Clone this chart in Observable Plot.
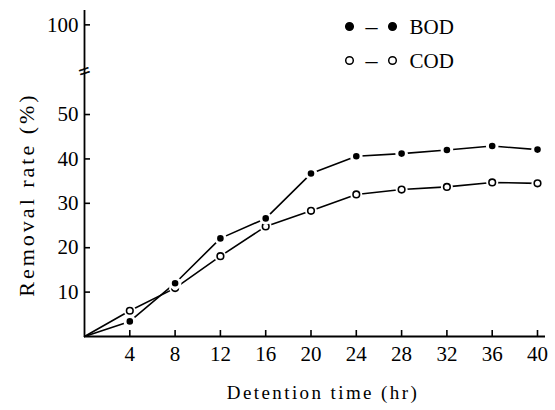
<!DOCTYPE html>
<html>
<head>
<meta charset="utf-8">
<script src="https://cdn.jsdelivr.net/npm/d3@7"></script>
<script src="https://cdn.jsdelivr.net/npm/@observablehq/plot@0.6"></script>
<style>
  body { margin: 0; background: white; }
</style>
</head>
<body>
<div id="chart"></div>
<script>
const times = [0, 4, 8, 12, 16, 20, 24, 28, 32, 36, 40];
const bod = [0, 3.4, 12.0, 22.1, 26.6, 36.7, 40.6, 41.2, 42.0, 42.9, 42.1];
const cod = [0, 5.8, 10.9, 18.1, 24.8, 28.3, 32.0, 33.1, 33.7, 34.7, 34.5];
const xTicks = [4, 8, 12, 16, 20, 24, 28, 32, 36, 40];
const yTicks = [10, 20, 30, 40, 50, 100];
const yBreakValue = 74;          // where the axis is broken (value scale)
const seriesNames = ["BOD", "COD"];
const xTitle = "Detention time (hr)";
const yTitle = "Removal rate (%)";

// broken axis: values above 50 are compressed
const cut = 50, squeeze = 0.404;
const brk = v => v <= cut ? v : cut + (v - cut) * squeeze;
const unbrk = u => u <= cut ? u : cut + (u - cut) / squeeze;

const bodData = times.map((t, i) => ({t, v: bod[i]}));
const codData = times.map((t, i) => ({t, v: cod[i]}));
const pts = d => d.t > 0;
const yv = d => brk(d.v);

const serif = "Liberation Serif";

const legendRows = seriesNames.map((name, i) => {
  const dy = i === 0 ? 16 : 50;
  const filled = i === 0;
  return [
    Plot.dot([name], {frameAnchor: "top-left", dx: 265, dy, r: 3.8, fill: filled ? "black" : "white", stroke: "black", strokeWidth: 1.5}),
    Plot.text([name], {frameAnchor: "top-left", dx: 287, dy, text: () => "–", fontSize: 24, fontFamily: serif, textAnchor: "middle", lineAnchor: "middle"}),
    Plot.dot([name], {frameAnchor: "top-left", dx: 308, dy, r: 3.8, fill: filled ? "black" : "white", stroke: "black", strokeWidth: 1.5}),
    Plot.text([name], {frameAnchor: "top-left", dx: 325, dy: dy + 1, text: d => d, fontSize: 21, fontFamily: serif, textAnchor: "start", lineAnchor: "middle"})
  ];
}).flat();

const chart = Plot.plot({
  width: 555,
  height: 410,
  marginLeft: 84,
  marginRight: 10,
  marginTop: 10,
  marginBottom: 74,
  style: {fontFamily: serif, fontSize: "20px", color: "black", background: "white"},
  x: {domain: [0, 40], range: [84, 537]},
  y: {domain: [0, brk(108)], range: [336, 10]},
  marks: [
    Plot.ruleX([0], {stroke: "black", strokeWidth: 1.8}),
    Plot.ruleY([0], {stroke: "black", strokeWidth: 1.8}),
    Plot.axisX(xTicks, {tickSize: -6, tickPadding: 16, strokeWidth: 1.6, fontSize: 21, fontFamily: serif, label: null}),
    Plot.axisY(yTicks.map(brk), {tickSize: -6, tickPadding: 12, strokeWidth: 1.6, fontSize: 21, fontFamily: serif, label: null, tickFormat: u => Math.round(unbrk(u))}),
    Plot.text([yBreakValue], {x: 0, y: d => brk(d), text: () => "=", fontSize: 20, fontFamily: serif, rotate: -18, fill: "black", stroke: "black", strokeWidth: 0.6}),
    Plot.line(bodData, {x: "t", y: yv, stroke: "black", strokeWidth: 1.6}),
    Plot.line(codData, {x: "t", y: yv, stroke: "black", strokeWidth: 1.6}),
    Plot.dot(codData, {filter: pts, x: "t", y: yv, r: 6, fill: "white"}),
    Plot.dot(codData, {filter: pts, x: "t", y: yv, r: 3.3, fill: "white", stroke: "black", strokeWidth: 1.6}),
    Plot.dot(bodData, {filter: pts, x: "t", y: yv, r: 4.8, fill: "black", stroke: "white", strokeWidth: 3}),
    ...legendRows,
    Plot.text([yTitle], {frameAnchor: "top-left", dx: -58, dy: 184, rotate: -90, text: d => d, fontSize: 22, fontFamily: serif, textAnchor: "middle", lineAnchor: "middle"}),
    Plot.text([xTitle], {frameAnchor: "bottom", dx: 8, dy: 56, text: d => d, fontSize: 19, fontFamily: serif, textAnchor: "middle", lineAnchor: "middle"})
  ]
});
chart.querySelectorAll("text").forEach(t => {
  if (t.textContent === yTitle) t.setAttribute("letter-spacing", "3");
  if (t.textContent === xTitle) t.setAttribute("letter-spacing", "2.4");
});
document.getElementById("chart").append(chart);
</script>
</body>
</html>
